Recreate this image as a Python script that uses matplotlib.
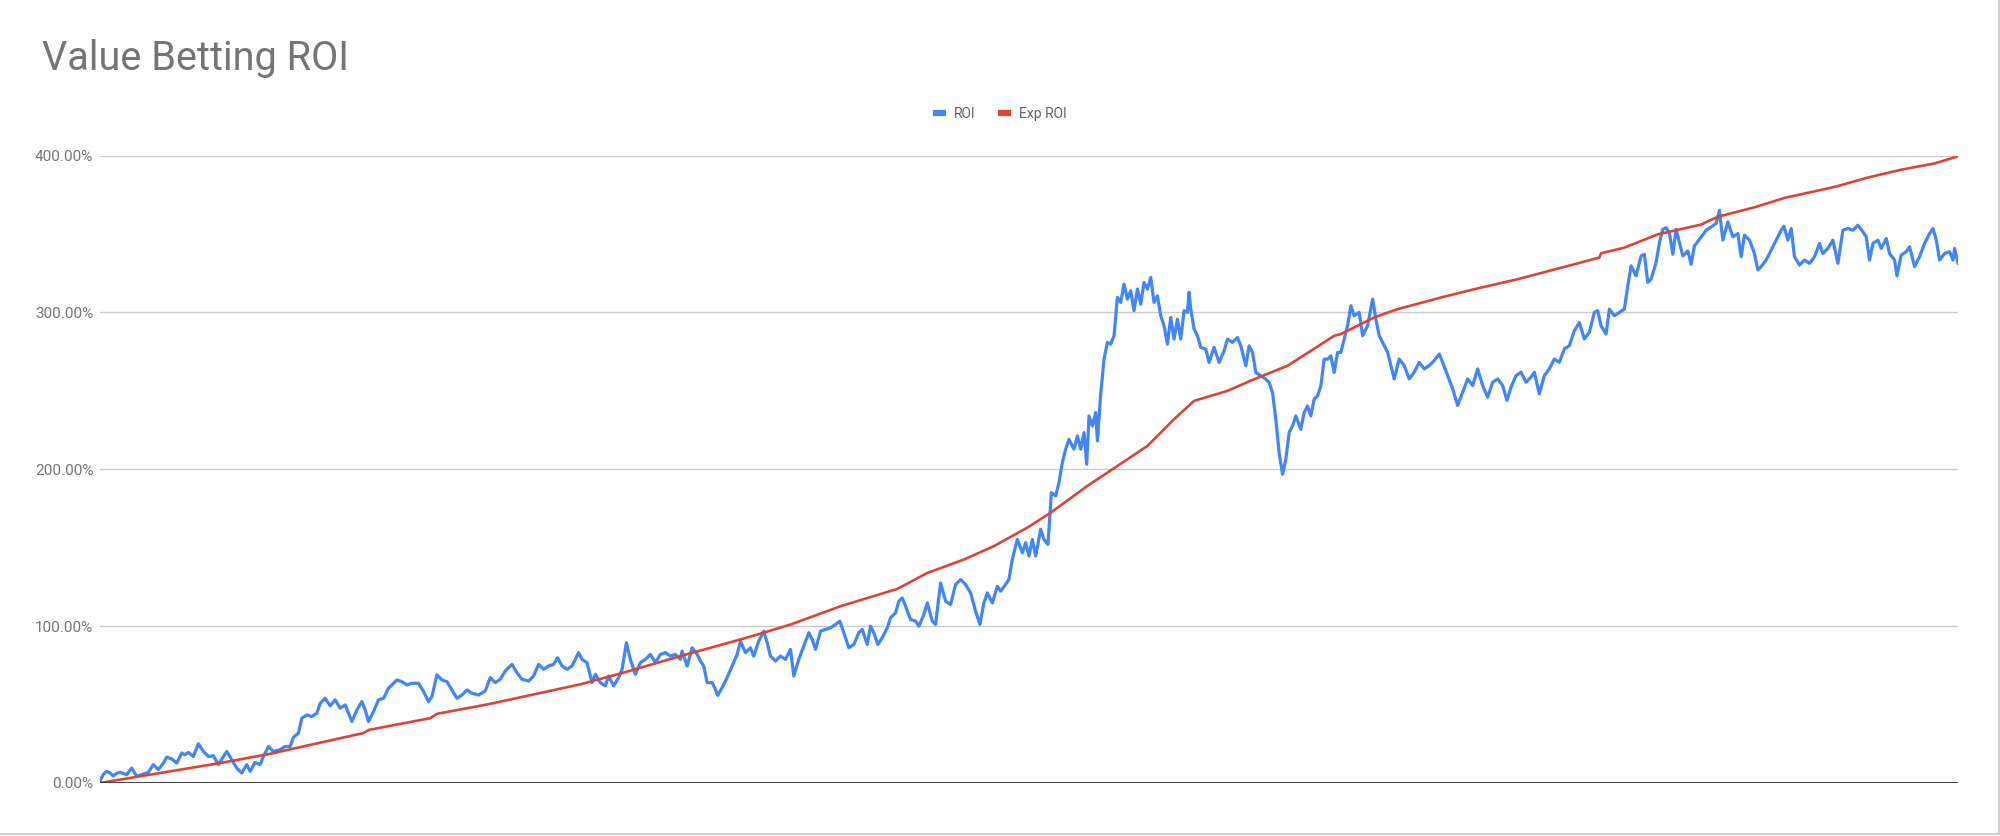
import matplotlib
matplotlib.use("Agg")
import matplotlib.pyplot as plt
from matplotlib.lines import Line2D
from matplotlib.ticker import FuncFormatter

plt.rcParams['font.family'] = ['Roboto', 'DejaVu Sans']

# bet position along the run and ROI in percent
roi_x = [25.5, 29.3, 32.7, 36, 39.3, 42.7, 46, 52.7, 57.7, 62.7, 67.7, 74.3, 79.3, 84.3, 89.3,
         92.7, 97.7, 102.7, 107.7, 111, 114.3, 119.3, 124.3, 129.3, 134.3, 139.3, 144.3, 149.3,
         152.7, 157.7, 162.7, 167.7, 172.7, 176, 181, 186, 189.3, 194.3, 199.3, 206, 211, 216,
         219.3, 224.3, 227.7, 232.7, 237.7, 242.7, 246, 251, 256, 261, 266, 271, 277.7, 282.7,
         287.7, 291, 294.3, 299.3, 304.3, 309.3, 314.3, 317.7, 322.7, 327.7, 332.7, 337.7, 344.3,
         349.3, 354.3, 357.7, 362.7, 367.7, 372.7, 377.7, 382.7, 387.7, 392.7, 397.7, 404.3,
         411, 416, 421, 426, 431, 437.7, 442.7, 447.7, 454.3, 459.3, 464.3, 469.3, 474.3, 479.3,
         483.3, 487.7, 492.7, 497.7, 504.3, 507.7, 512.7, 517.7, 521, 526, 531, 534.3, 539.3,
         544.3, 547.7, 552, 556, 561, 566, 571, 576, 581, 586, 591, 596, 601, 606, 607.7, 612.7,
         617.7, 622.7, 626, 629.3, 632.7, 637.7, 641, 643.3, 647.7, 652.7, 657.7, 662.7, 666,
         671, 676, 679.3, 684.3, 689.3, 692.7, 696, 701, 706, 711, 716, 719.3, 724.3, 729.3,
         734.3, 737.7, 741, 746, 751, 756, 761, 765.3, 769.3, 774.3, 779.3, 784.3, 787.7, 792.7,
         796, 799.3, 803.3, 807.7, 812.7, 816, 821, 824.3, 827.7, 831, 836, 841, 844.3, 849.3,
         852.7, 857.7, 861, 866, 871, 876, 881, 886, 891, 896, 901, 905.3, 909.3, 912.7, 917.7,
         922.7, 926, 931, 934.3, 937.7, 942.7, 947.7, 951, 954.3, 957.7, 961, 966, 969.3, 973.3,
         976.7, 981, 984.3, 987.7, 991, 994.3, 999.3, 1002.7, 1006, 1009.3, 1012, 1014.3, 1017.7,
         1021, 1022.7, 1026, 1029.3, 1032.7, 1036, 1039.3, 1042.7, 1046, 1049.3, 1052.7, 1056,
         1059.3, 1062.7, 1066, 1069.3, 1072.7, 1076, 1079.3, 1082.7, 1086, 1089.3, 1092.7, 1096,
         1099.3, 1102.7, 1106, 1109.3, 1112.7, 1114.3, 1116, 1119.3, 1122.7, 1126, 1131, 1134.3,
         1139.3, 1144.3, 1149.3, 1152.7, 1157.7, 1162.7, 1166, 1171, 1174.3, 1177.7, 1181, 1186,
         1191, 1194.3, 1197.7, 1201, 1204.3, 1207.7, 1211, 1214.3, 1217.7, 1221, 1226, 1229.3,
         1232.7, 1236, 1239.3, 1242.7, 1246, 1249.3, 1252.7, 1256, 1259.3, 1262.7, 1266, 1269.3,
         1272.7, 1276, 1279.3, 1284.3, 1287.7, 1292.7, 1297.7, 1301, 1304.3, 1309.3, 1312.7,
         1316, 1319.3, 1324.3, 1329.3, 1334.3, 1339.3, 1344.3, 1349.3, 1354.3, 1359.3, 1364.3,
         1367.7, 1372.7, 1377.7, 1382.7, 1387.7, 1392.7, 1397.7, 1402.7, 1407.7, 1412.7, 1417.7,
         1422.7, 1427.7, 1432, 1436, 1441, 1446, 1451, 1456, 1459.3, 1464.3, 1469.3, 1474.3,
         1479.3, 1484.3, 1489.3, 1494.3, 1499.3, 1504.3, 1509.3, 1514.3, 1519.3, 1522.7, 1526,
         1531, 1534.3, 1539.3, 1544.3, 1549.3, 1552.7, 1556, 1561, 1566, 1569.3, 1572.7, 1576,
         1581, 1584.3, 1587.7, 1591, 1594.3, 1597.7, 1601, 1604.3, 1607.7, 1612.7, 1616, 1619.3,
         1624.3, 1631, 1636, 1641, 1644.3, 1647.7, 1652.7, 1657.7, 1662.7, 1666, 1669.3, 1674.3,
         1679.3, 1682.7, 1686, 1691, 1696, 1701, 1706, 1708.7, 1712.7, 1716, 1719.3, 1724.3,
         1729.3, 1734.3, 1739.3, 1744.3, 1747.7, 1752.7, 1757.7, 1762.7, 1767.7, 1772.7, 1777.7,
         1782.7, 1787.7, 1791, 1794.3, 1797.7, 1802.7, 1806, 1811, 1814.3, 1819.3, 1821.7, 1826,
         1831, 1834.3, 1839.3, 1844.3, 1849.3, 1854.3, 1857.7, 1861, 1864.3, 1869.3, 1874.3,
         1877.7, 1879.3, 1882.7]
roi = [0.5, 5.5, 7.5, 6.4, 4.5, 6.2, 6.8, 5.3, 9.5, 4.2, 5.3, 6.8, 11.7, 8.5, 12.7,
       16.5, 15.3, 12.7, 19.1, 18, 19.5, 16.9, 25, 20.1, 16.9, 17.4, 11.7, 16.9,
       20.1, 14.8, 9.5, 6.4, 11.7, 7.4, 13.1, 11.7, 16.9, 23.3, 20.1, 21.2, 23.3, 23.3,
       29.2, 31.8, 41.3, 43.4, 42.4, 44.5, 50.8, 54, 49.2, 53, 47.7, 49.8, 39.2, 46.6,
       51.9, 46.6, 39.2, 45.6, 53, 54, 60.4, 62.5, 65.7, 64.6, 62.5, 63.6, 63.6,
       58.3, 51.9, 55.1, 68.9, 65.7, 64.6, 59.3, 54, 56.1, 59.3, 57.2, 56.1,
       58.7, 67.2, 64, 66.1, 71.4, 75.6, 70.3, 66.1, 65, 68.2, 75.6, 72.5, 74.6, 75.6,
       79.9, 74.6, 72.5, 74.6, 83.1, 78.8, 76.7, 64, 69.3, 64, 61.9, 68.2, 61.9,
       67.2, 72.5, 89.4, 78.8, 69.3, 76.7, 78.8, 82, 76.7, 82, 83.1, 80.9, 82, 78.8, 84.1, 74.6,
       86.2, 82, 77.8, 74.6, 64, 64, 59.7, 55.9, 60.8, 67.2, 74.6, 82, 90.5,
       83.1, 86.2, 80.9, 90.5, 96.8, 89.4, 80.9, 77.8, 80.9, 78.8, 85.2, 68.2, 78.8, 87.3,
       95.8, 91.5, 85.2, 96.8, 97.9, 98.9, 101.1, 103.2, 95.8, 86.2, 88.3, 95.8, 97.9, 88.3,
       100, 95.8, 88.3, 92.6, 98.9, 105.3, 108.5, 115.9, 118, 112.7, 104.2, 103.2, 100, 107.4,
       114.8, 103.2, 101.1, 127.5, 115.9, 113.8, 126.5, 129.7, 126.5, 121.2, 109.5, 101.1, 114.8, 121.2, 114.8,
       125.4, 122.3, 126.6, 129.8, 142.6, 155.3, 146.8, 153.2, 144.7, 155.3, 144.7, 161.7, 155.3, 152.1,
       185.1, 183, 191.5, 204.3, 212.8, 219.1, 212.8, 221.3, 212.8, 223.4, 203.2, 234, 227.7,
       236.2, 218.1, 247.9, 270.2, 280.9, 279.8, 285.1, 309.6, 306.4, 318.1, 308.5, 313.8,
       301.1, 314.9, 305.3, 319.1, 314.9, 322.3, 306.4, 310.6, 297.9, 291.5, 279.8, 296.8,
       283, 295.7, 283, 301.1, 300, 312.8, 302.1, 289.4, 285.1, 277.7, 276.6, 268.1,
       277.7, 268.1, 275.5, 283, 280.9, 284, 278.7, 266, 278.7, 274.5, 261.7, 259.6,
       257.4, 255.3, 248.9, 231.9, 210.6, 196.8, 206.4, 223.4, 227.7, 234, 225.5, 236.2,
       240.4, 234, 244.7, 246.8, 253.2, 270.2, 270.2, 272.3, 261.7, 274.5, 274.5, 283,
       291.5, 304.3, 297.9, 300, 285.2, 291.5, 308.5, 295.8, 285.2, 278.8, 274.6,
       266.1, 257.6, 270.3, 266.1, 257.6, 261.9, 268.2, 264, 266.1, 269.3, 273.5,
       268.2, 259.7, 251.3, 240.7, 249.2, 257.6, 253.4, 264, 253.4, 246, 255.5,
       257.6, 253.4, 243.9, 252.3, 259.7, 261.9, 255.5, 258.7, 261.9, 248.1, 259.7, 264,
       270.3, 268.2, 276.7, 278.8, 288.3, 293.6, 283.1, 287.3, 300, 301.1, 291.5,
       286.2, 302.1, 297.9, 300, 302.1, 316.9, 329.7, 323.3, 336, 337.1, 319.1, 321.2,
       331.8, 344.5, 353, 354, 350.8, 337.1, 353, 344.5, 336, 339.2, 330.7, 342.4,
       346.6, 352.4, 354.5, 356.7, 365.1, 346.1, 357.7, 348.2, 350.3, 335.5, 349.3, 346.1,
       337.6, 327.1, 329.2, 333.4, 339.7, 346.1, 352.4, 355, 346.1, 353.5, 335.5, 330.2,
       333.4, 331.3, 335.5, 344, 337.6, 340.8, 346.1, 331.3, 352.4, 353.5, 352.4,
       355.6, 351.4, 348.2, 333.4, 344, 346.1, 340.8, 347.1, 337.6, 333.4, 323.3, 336.6,
       338.7, 341.9, 329.2, 335.5, 344, 350.3, 353.5, 346.1, 333.4, 337.6, 338.7,
       333.4, 340.8, 331.3]

# expected ROI
exp_x = [25.5, 146, 196, 289, 295, 356, 362.7, 414, 506, 549, 606, 666, 689, 716, 766,
         822.7, 852.7, 889, 919.3, 952.7, 976, 1012.7, 1042.7, 1072.7, 1099.3, 1119.3,
         1152.7, 1179.3, 1212.7, 1236, 1259.3, 1266, 1299.3, 1322.7, 1366, 1399.3, 1442.7,
         1499.3, 1524.3, 1526, 1549.3, 1582.7, 1626, 1642.7, 1679.3, 1709.3, 1759.3, 1792.7,
         1826, 1859.3, 1882.7]
exp_roi = [0, 12.7, 18.6, 31.8, 33.9, 41.3, 44.1, 50.2, 62.9, 70.3, 80.9, 91.5, 95.8, 101, 112.7,
           123.7, 133.9, 142.4, 151, 162.8, 172.3, 189.4, 202.1, 214.9, 231.9, 243.6,
           250, 257.4, 266, 275.5, 285.1, 286.2, 296.8, 302.1, 309.5, 314.8, 321.2,
           330.7, 335, 337.7, 341.3, 349.8, 356, 361, 367, 373, 380, 386,
           391, 395, 399.5]

yticks = [0, 100, 200, 300, 400]

fig = plt.figure(figsize=(20, 8.36), dpi=100)
fig.patch.set_facecolor('white')
ax = fig.add_axes([0.04975, 0.0634, 0.92925, 0.7505])

l1, = ax.plot(roi_x, roi, color='#4285F4', lw=2.3, label='ROI', zorder=3)
l2, = ax.plot(exp_x, exp_roi, color='#DB4437', lw=1.9, label='Exp ROI', zorder=4)

ax.set_xlim(roi_x[0], roi_x[-1])
ax.set_ylim(0, 400)
ax.set_yticks(yticks)
ax.yaxis.set_major_formatter(FuncFormatter(lambda v, p: '%.2f%%' % v))
ax.tick_params(axis='y', length=0, pad=4.5, labelsize=11, labelcolor='#757575')
ax.set_xticks([])
ax.grid(axis='y', color='#cccccc', lw=1.0, zorder=0)
ax.axhline(0, color='#333333', lw=1.3, zorder=5)
for s in ax.spines.values():
    s.set_visible(False)

fig.text(42.5 / 2000, 1 - 70 / 836, 'Value Betting ROI', fontsize=28.5, color='#757575',
         ha='left', va='baseline')

fig.legend(handles=[l1, l2], loc='center', bbox_to_anchor=(1000 / 2000, 1 - 114 / 836),
           ncol=2, frameon=False, fontsize=10, labelcolor='#616161',
           handlelength=0.9, handletextpad=0.6, columnspacing=1.6)
leg = fig.legends[0]
for h in leg.legend_handles:
    h.set_linewidth(4.5)
    h.set_solid_capstyle('butt')

# spreadsheet frame on right and bottom edge
fig.add_artist(Line2D([0, 1999.5 / 2000], [2.5 / 836, 2.5 / 836], color='#d0d0d0', lw=1.5,
                      transform=fig.transFigure))
fig.add_artist(Line2D([1999 / 2000, 1999 / 2000], [2.5 / 836, 1], color='#d0d0d0', lw=1.5,
                      transform=fig.transFigure))

fig.savefig('out.png', dpi=100, facecolor='white')
